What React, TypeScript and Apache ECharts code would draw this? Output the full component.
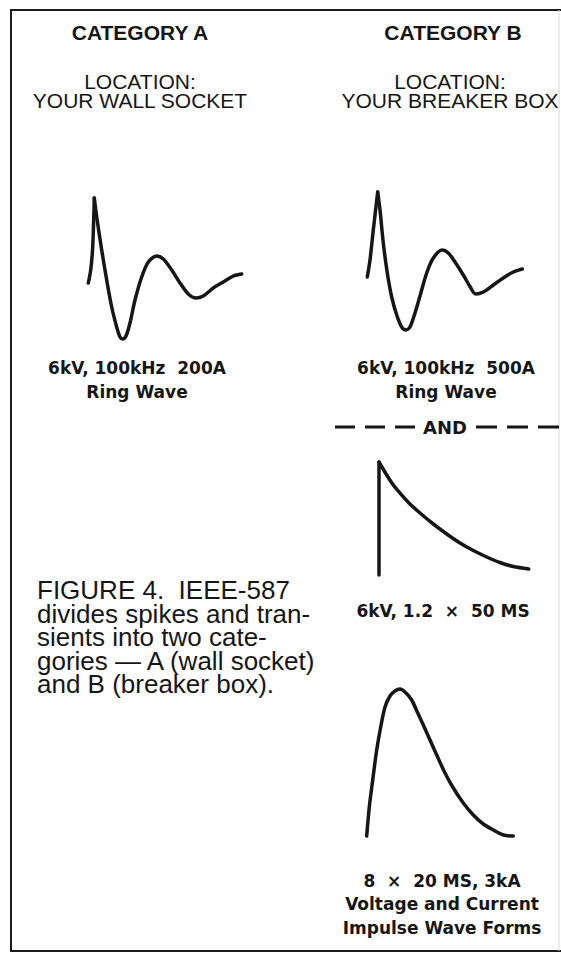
import React, { useEffect, useRef } from "react";
import * as echarts from "echarts";

// Ring wave, category A (x: time units, y: amplitude units)
const ringARise = [[8.3, 0], [10.7, 13], [12.7, 36], [14.3, 85]];
const ringADecay = [
  [14.3, 85], [16.7, 66], [21.7, 33], [26.7, 3], [31.7, -24], [36.7, -44],
  [40, -54], [42.7, -56], [46, -53], [50, -40], [55, -17], [61.7, 6],
  [68.3, 21], [76.7, 27], [83.3, 24], [91.7, 13], [100, 0], [108.3, -11],
  [116, -15], [123.3, -13], [133.3, -5], [143.3, 1], [153.3, 7], [161.7, 9],
];

// Ring wave, category B
const ringBRise = [[12.3, 0], [15, 17], [18.3, 47], [22.7, 85]];
const ringBDecay = [
  [22.7, 85], [25, 67], [28.3, 34], [32.3, 4], [36.7, -20], [41.7, -38],
  [46.7, -50], [51, -53], [55, -50], [60, -36], [65, -19], [71.7, 4],
  [78.3, 19], [87.3, 27], [93.3, 24], [100, 15], [108.3, 2], [114.7, -9],
  [120.7, -17], [128.3, -15], [138.3, -8], [148.3, -1], [158.3, 5], [167.3, 8],
];

// 1.2 x 50 exponential wave, category B
const expRise = [[9, 0], [9, 113]];
const expDecay = [
  [9, 113], [16.7, 100], [23.3, 90], [30, 82], [40, 71], [50, 62], [63.3, 51],
  [76.7, 41], [90, 32], [103.3, 24.5], [116.7, 18], [130, 12.5], [143.3, 8.5], [158.7, 6],
];

// 8 x 20 impulse wave, category B
const impulse = [
  [11.7, 0], [14.3, 29], [17.7, 56], [21.7, 86], [25.7, 109], [30, 129],
  [35, 140], [40, 145], [45, 147], [51, 143], [56.7, 136], [62.3, 124],
  [68.3, 111], [75, 96], [81.7, 81], [90, 63], [98.3, 48], [108.3, 33],
  [118.3, 21], [128.3, 12], [138.3, 6], [148.3, 1], [158.3, 0],
];

const headers = ["CATEGORY A", "CATEGORY B"];
const locations = ["LOCATION:\nYOUR WALL SOCKET", "LOCATION:\nYOUR BREAKER BOX"];
const ringLabels = ["6kV, 100kHz  200A\nRing Wave", "6kV, 100kHz  500A\nRing Wave"];
const andLabel = "AND";
const expLabel = "6kV, 1.2  ×  50 MS";
const impulseLabel = "8  ×  20 MS, 3kA\nVoltage and Current\nImpulse Wave Forms";
const captionLines = [
  "FIGURE 4.  IEEE-587",
  "divides spikes and tran-",
  "sients into two cate-",
  "gories — A (wall socket)",
  "and B (breaker box).",
];

const INK = "#161616";
const REG = "'Liberation Sans', Arial, Helvetica, sans-serif";
const BOLD = "'DejaVu Sans', 'Liberation Sans', sans-serif";

export default function App() {
  const ref = useRef<HTMLDivElement>(null);

  useEffect(() => {
    if (!ref.current) return;
    const chart = echarts.init(ref.current, undefined, { renderer: "svg" });

    const grids = [
      { left: 80, top: 185, width: 170, height: 170, ymin: -72, ymax: 98 },
      { left: 355, top: 180, width: 180, height: 170, ymin: -73, ymax: 97 },
      { left: 370, top: 450, width: 170, height: 130, ymin: -5, ymax: 125 },
      { left: 355, top: 680, width: 170, height: 165, ymin: -9, ymax: 156 },
    ];

    const line = (idx: number, data: number[][], smooth: number | boolean) => ({
      type: "line",
      xAxisIndex: idx,
      yAxisIndex: idx,
      data,
      showSymbol: false,
      smooth,
      silent: true,
      lineStyle: { color: INK, width: 3.5, cap: "round", join: "round" },
    });

    const txt = (
      text: string,
      x: number,
      y: number,
      font: string,
      align = "center",
      lineHeight?: number,
      vAlign = "middle"
    ) => ({
      type: "text",
      x,
      y,
      silent: true,
      style: {
        text,
        font,
        fill: INK,
        textAlign: align,
        textVerticalAlign: vAlign,
        align,
        verticalAlign: vAlign,
        lineHeight,
      },
    });

    chart.setOption({
      animation: false,
      backgroundColor: "#ffffff",
      grid: grids.map((g) => ({ left: g.left, top: g.top, width: g.width, height: g.height })),
      xAxis: grids.map((g, i) => ({ type: "value", gridIndex: i, min: 0, max: g.width, show: false })),
      yAxis: grids.map((g, i) => ({ type: "value", gridIndex: i, min: g.ymin, max: g.ymax, show: false })),
      series: [
        line(0, ringARise, 0.3),
        line(0, ringADecay, 0.3),
        line(1, ringBRise, 0.3),
        line(1, ringBDecay, 0.3),
        line(2, expRise, false),
        line(2, expDecay, 0.3),
        line(3, impulse, 0.3),
      ],
      graphic: [
        {
          type: "rect",
          silent: true,
          shape: { x: 11, y: 10, width: 600, height: 941 },
          style: { fill: "none", stroke: "#1c1c1c", lineWidth: 2 },
        },
        {
          type: "line",
          silent: true,
          shape: { x1: 559, y1: 10, x2: 559, y2: 951 },
          style: { stroke: "#d8d8d8", lineWidth: 1 },
        },
        txt(headers[0], 140, 32, `bold 21px ${REG}`),
        txt(headers[1], 453, 32, `bold 21px ${REG}`),
        txt(locations[0], 140, 91, `21px ${REG}`, "center", 19),
        txt(locations[1], 450, 91, `21px ${REG}`, "center", 19),
        txt(ringLabels[0], 137, 380, `bold 17px ${BOLD}`, "center", 24),
        txt(ringLabels[1], 446, 380, `bold 17px ${BOLD}`, "center", 24),
        {
          type: "line",
          silent: true,
          shape: { x1: 335, y1: 427, x2: 415, y2: 427 },
          style: { stroke: INK, lineWidth: 3, lineDash: [20, 10] },
        },
        {
          type: "line",
          silent: true,
          shape: { x1: 476, y1: 427, x2: 561, y2: 427 },
          style: { stroke: INK, lineWidth: 3, lineDash: [21, 10] },
        },
        txt(andLabel, 445, 427, `bold 18px ${BOLD}`),
        txt(expLabel, 443, 611, `bold 17px ${BOLD}`),
        txt(impulseLabel, 442, 904, `bold 17px ${BOLD}`, "center", 23.5),
        txt(captionLines.join("\n"), 37, 637, `26px ${REG}`, "left", 23.5),
      ],
    });

    return () => chart.dispose();
  }, []);

  return (
    <div
      ref={ref}
      style={{ position: "absolute", left: 0, top: 0, width: 561, height: 955, background: "#fff" }}
    />
  );
}
